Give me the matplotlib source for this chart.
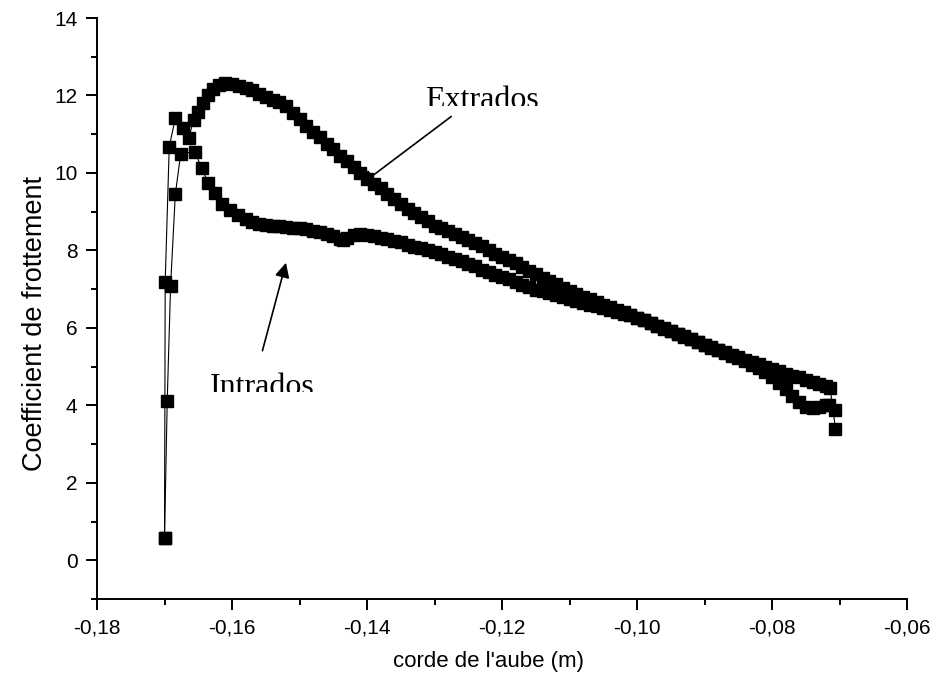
import matplotlib
matplotlib.use('Agg')
import matplotlib.pyplot as plt
from matplotlib.patches import Rectangle
from matplotlib.ticker import MultipleLocator, FuncFormatter

plt.rcParams['font.family'] = ['Liberation Sans', 'DejaVu Sans']

# extrados (suction side)
x_ext = [-0.1700, -0.1699, -0.1693, -0.1684, -0.1672, -0.1664, -0.1657, -0.1650,
         -0.1643, -0.1635, -0.1628, -0.1620, -0.1610,
         -0.160, -0.159, -0.158, -0.157, -0.156, -0.155, -0.154, -0.153, -0.152, -0.151,
         -0.150, -0.149, -0.148, -0.147, -0.146, -0.145, -0.144, -0.143, -0.142, -0.141,
         -0.140, -0.139, -0.138, -0.137, -0.136, -0.135, -0.134, -0.133, -0.132, -0.131,
         -0.130, -0.129, -0.128, -0.127, -0.126, -0.125, -0.124, -0.123, -0.122, -0.121,
         -0.120, -0.119, -0.118, -0.117, -0.116, -0.115, -0.114, -0.113, -0.112, -0.111,
         -0.110, -0.109, -0.108, -0.107, -0.106, -0.105, -0.104, -0.103, -0.102, -0.101,
         -0.100, -0.099, -0.098, -0.097, -0.096, -0.095, -0.094, -0.093, -0.092, -0.091,
         -0.090, -0.089, -0.088, -0.087, -0.086, -0.085, -0.084, -0.083, -0.082, -0.081,
         -0.080, -0.079, -0.078, -0.077, -0.076, -0.075, -0.074, -0.073, -0.072, -0.0714,
         -0.0706]
cf_ext = [0.58, 7.19, 10.68, 11.41, 11.15, 10.90, 11.37, 11.58,
          11.80, 12.01, 12.18, 12.28, 12.33,
          12.30, 12.25, 12.20, 12.15, 12.05, 11.95, 11.88, 11.82, 11.72, 11.55,
          11.38, 11.20, 11.05, 10.92, 10.75, 10.62, 10.45, 10.30, 10.15, 10.00,
          9.85, 9.72, 9.60, 9.45, 9.32, 9.20, 9.08, 8.97, 8.85, 8.75,
          8.64, 8.57, 8.50, 8.42, 8.35, 8.26, 8.20, 8.12, 8.00, 7.90,
          7.82, 7.75, 7.68, 7.58, 7.48, 7.40, 7.30, 7.20, 7.12, 7.03,
          6.95, 6.88, 6.80, 6.74, 6.66, 6.60, 6.53, 6.47, 6.40, 6.33,
          6.26, 6.20, 6.13, 6.06, 5.98, 5.92, 5.85, 5.78, 5.70, 5.63,
          5.56, 5.50, 5.44, 5.37, 5.30, 5.24, 5.18, 5.12, 5.06, 5.00,
          4.94, 4.88, 4.82, 4.76, 4.72, 4.66, 4.60, 4.55, 4.50, 4.45,
          3.40]

# intrados (pressure side)
x_int = [-0.1700, -0.1696, -0.1691, -0.1684, -0.1676, -0.1655, -0.1645, -0.1635,
         -0.1625, -0.1615, -0.1603, -0.1591, -0.158, -0.157, -0.156,
         -0.155, -0.154, -0.153, -0.152, -0.151, -0.150, -0.149, -0.148, -0.147, -0.146,
         -0.145, -0.144, -0.1435, -0.143, -0.142, -0.141, -0.140, -0.139, -0.138, -0.137,
         -0.136, -0.135, -0.134, -0.133, -0.132, -0.131, -0.130, -0.129, -0.128, -0.127,
         -0.126, -0.125, -0.124, -0.123, -0.122, -0.121, -0.120, -0.119, -0.118, -0.117,
         -0.116, -0.115, -0.114, -0.113, -0.112, -0.111, -0.110, -0.109, -0.108, -0.107,
         -0.106, -0.105, -0.104, -0.103, -0.102, -0.101, -0.100, -0.099, -0.098, -0.097,
         -0.096, -0.095, -0.094, -0.093, -0.092, -0.091, -0.090, -0.089, -0.088, -0.087,
         -0.086, -0.085, -0.084, -0.083, -0.082, -0.081, -0.080, -0.079, -0.078, -0.077,
         -0.076, -0.075, -0.074, -0.073, -0.072, -0.0715, -0.0706]
cf_int = [0.58, 4.12, 7.09, 9.45, 10.50, 10.55, 10.12, 9.73,
          9.47, 9.21, 9.04, 8.91, 8.80, 8.74, 8.69,
          8.65, 8.63, 8.62, 8.61, 8.59, 8.57, 8.55, 8.51, 8.47, 8.43,
          8.38, 8.30, 8.27, 8.33, 8.40, 8.42, 8.40, 8.37, 8.33, 8.29,
          8.25, 8.21, 8.15, 8.10, 8.05, 8.00, 7.95, 7.90, 7.83, 7.77,
          7.72, 7.66, 7.60, 7.50, 7.43, 7.37, 7.31, 7.25, 7.18, 7.11,
          7.05, 6.99, 6.94, 6.90, 6.85, 6.80, 6.75, 6.70, 6.65, 6.60,
          6.56, 6.52, 6.47, 6.42, 6.37, 6.32, 6.26, 6.20, 6.13, 6.06,
          5.99, 5.92, 5.85, 5.77, 5.70, 5.63, 5.56, 5.49, 5.42, 5.35,
          5.28, 5.21, 5.14, 5.05, 4.97, 4.86, 4.72, 4.58, 4.42, 4.25,
          4.08, 3.95, 3.93, 3.96, 4.00, 4.02, 3.89]

fig = plt.figure(figsize=(9.41, 6.88), dpi=100)
ax = fig.add_axes([0.1031, 0.1294, 0.8608, 0.8444])

ax.plot(x_ext, cf_ext, color='black', lw=0.8, marker='s', ms=9, mec='black', mfc='black')
ax.plot(x_int, cf_int, color='black', lw=0.8, marker='s', ms=9, mec='black', mfc='black')

ax.set_xlim(-0.18, -0.06)
ax.set_ylim(-1, 14)
ax.xaxis.set_major_locator(MultipleLocator(0.02))
ax.xaxis.set_minor_locator(MultipleLocator(0.01))
ax.yaxis.set_major_locator(MultipleLocator(2))
ax.yaxis.set_minor_locator(MultipleLocator(1))
ax.xaxis.set_major_formatter(FuncFormatter(lambda v, p: ('%.2f' % v).replace('.', ',')))

for s in ['top', 'right']:
    ax.spines[s].set_visible(False)
for s in ['left', 'bottom']:
    ax.spines[s].set_linewidth(1.4)
ax.tick_params(which='major', direction='out', length=8, width=1.4, labelsize=15, pad=6)
ax.tick_params(which='minor', direction='out', length=4.5, width=1.4)

ax.set_xlabel("corde de l'aube (m)", fontsize=16)
ax.set_ylabel('Coefficient de frottement', fontsize=19.5)
ax.xaxis.set_label_coords(0.483, -0.09)
ax.yaxis.set_label_coords(-0.061, 0.475)

# annotations
ax.annotate('', xy=(-0.1413, 9.65), xytext=(-0.1272, 11.50),
            arrowprops=dict(arrowstyle='-|>', color='black', lw=1.2, mutation_scale=22))
ax.annotate('', xy=(-0.1519, 7.75), xytext=(-0.1556, 5.34),
            arrowprops=dict(arrowstyle='-|>', color='black', lw=1.2, mutation_scale=22))

# the labels in the original are cut off just above their baseline
t1 = ax.text(-0.1314, 11.68, 'Extrados', fontsize=23, family='Liberation Serif',
             va='baseline', ha='left', clip_on=True)
t1.set_clip_path(Rectangle((-0.14, 11.74), 0.03, 1.5, transform=ax.transData))
t2 = ax.text(-0.1633, 4.27, 'Intrados', fontsize=23, family='Liberation Serif',
             va='baseline', ha='left', clip_on=True)
t2.set_clip_path(Rectangle((-0.17, 4.34), 0.03, 1.5, transform=ax.transData))

fig.savefig('out.png', dpi=100)
